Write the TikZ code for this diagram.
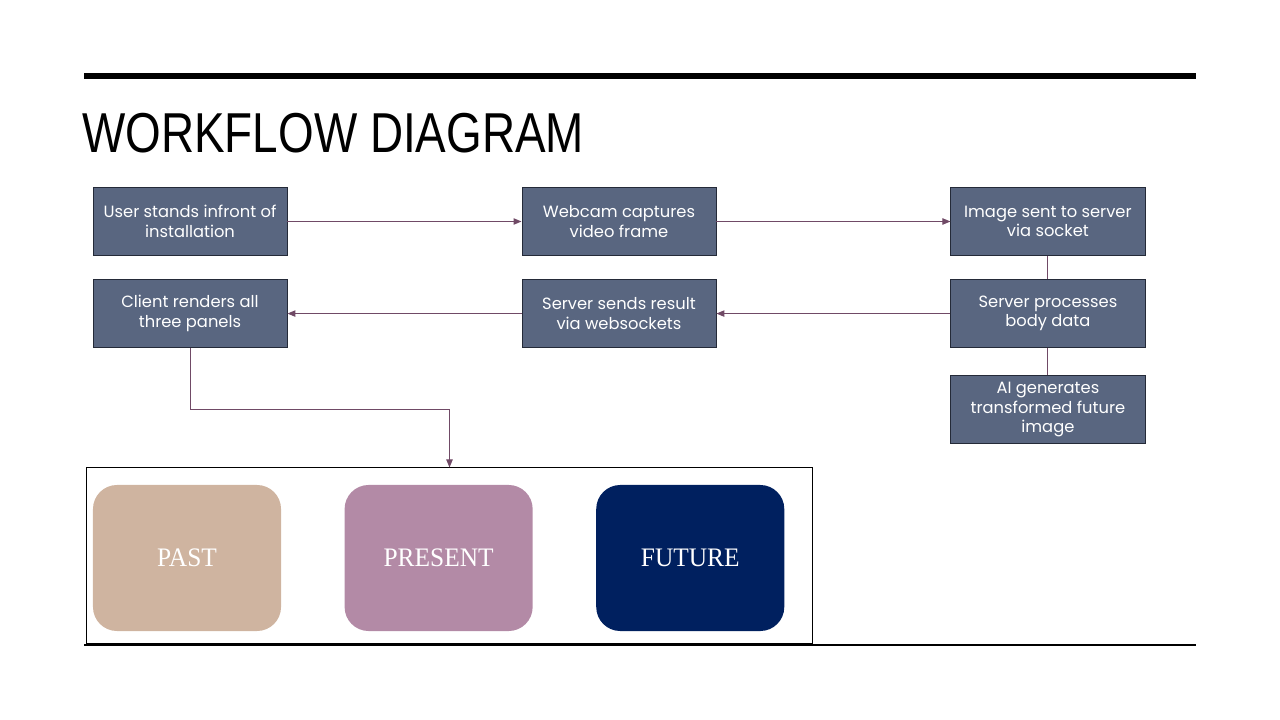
\documentclass[tikz,border=0pt]{standalone}
\usepackage{fontspec}
\usetikzlibrary{positioning,arrows.meta}
\newfontfamily\boxfont{Poppins}
\newfontfamily\titlefont[FakeStretch=0.815]{Liberation Sans}
\newfontfamily\panelfont[FakeStretch=0.95]{Liberation Serif}
\definecolor{slate}{RGB}{89,102,128}
\definecolor{slateline}{RGB}{36,42,56}
\definecolor{flowc}{RGB}{112,74,102}
\definecolor{pastc}{RGB}{207,180,160}
\definecolor{presentc}{RGB}{179,138,166}
\definecolor{futurec}{RGB}{0,32,95}

\tikzset{
  stepbox/.style={draw=slateline,fill=slate,line width=0.6pt,rectangle,
    minimum width=4.85cm,minimum height=1.7cm,align=center,
    text=white,font=\boxfont\fontsize{11.6}{13.8}\selectfont},
  panel/.style={rectangle,rounded corners=0.6cm,minimum width=4.7cm,
    minimum height=3.65cm,text=white,font=\panelfont\fontsize{19}{20}\selectfont},
  flow/.style={draw=flowc,line width=0.7pt,-{Triangle[length=2mm,width=1.6mm]}},
  link/.style={draw=flowc,line width=0.7pt},
}

\begin{document}
\begin{tikzpicture}[x=0.025cm,y=-0.025cm]
\useasboundingbox (0,0) rectangle (1280,720);

% rules and title
\draw[line width=3.6pt] (84,76) -- (1196,76);
\draw[line width=0.9pt] (84,645) -- (1196,645);
\node[anchor=base west,inner sep=0pt,font=\titlefont\fontsize{40}{40}\selectfont](title) at (82,153) {WORKFLOW DIAGRAM};

% steps
\node[stepbox](user) at (190,221.5) {User stands infront of\\installation};
\node[stepbox, right=5.85cm of user](webcam) {Webcam captures\\video frame};
\node[stepbox, right=5.85cm of webcam](sent) {Image sent to server\\via socket};
\node[stepbox, below=0.58cm of sent](process) {Server processes\\body data};
\node[stepbox, below=0.68cm of process](ai) {AI generates\\transformed future\\image};
\node[stepbox, below=0.58cm of webcam](result) {Server sends result\\via websockets};
\node[stepbox, below=0.58cm of user](render) {Client renders all\\three panels};

% panels
\node[draw,line width=0.7pt,minimum width=18.125cm,minimum height=4.375cm](frame) at (449.5,555.5) {};
\node[panel,fill=pastc](past) at (187,558) {PAST};
\node[panel,fill=presentc, right=1.575cm of past](present) {PRESENT};
\node[panel,fill=futurec, right=1.575cm of present](future) {FUTURE};

\draw[flow] (user) -- (webcam);
\draw[flow] (webcam) -- (sent);
\draw[link] (sent) -- (process);
\draw[link] (process) -- (ai);
\draw[flow] (process) -- (result);
\draw[flow] (result) -- (render);
\draw[flow] (render.south) -- ++(0,61) -| (frame.north);
\end{tikzpicture}
\end{document}
